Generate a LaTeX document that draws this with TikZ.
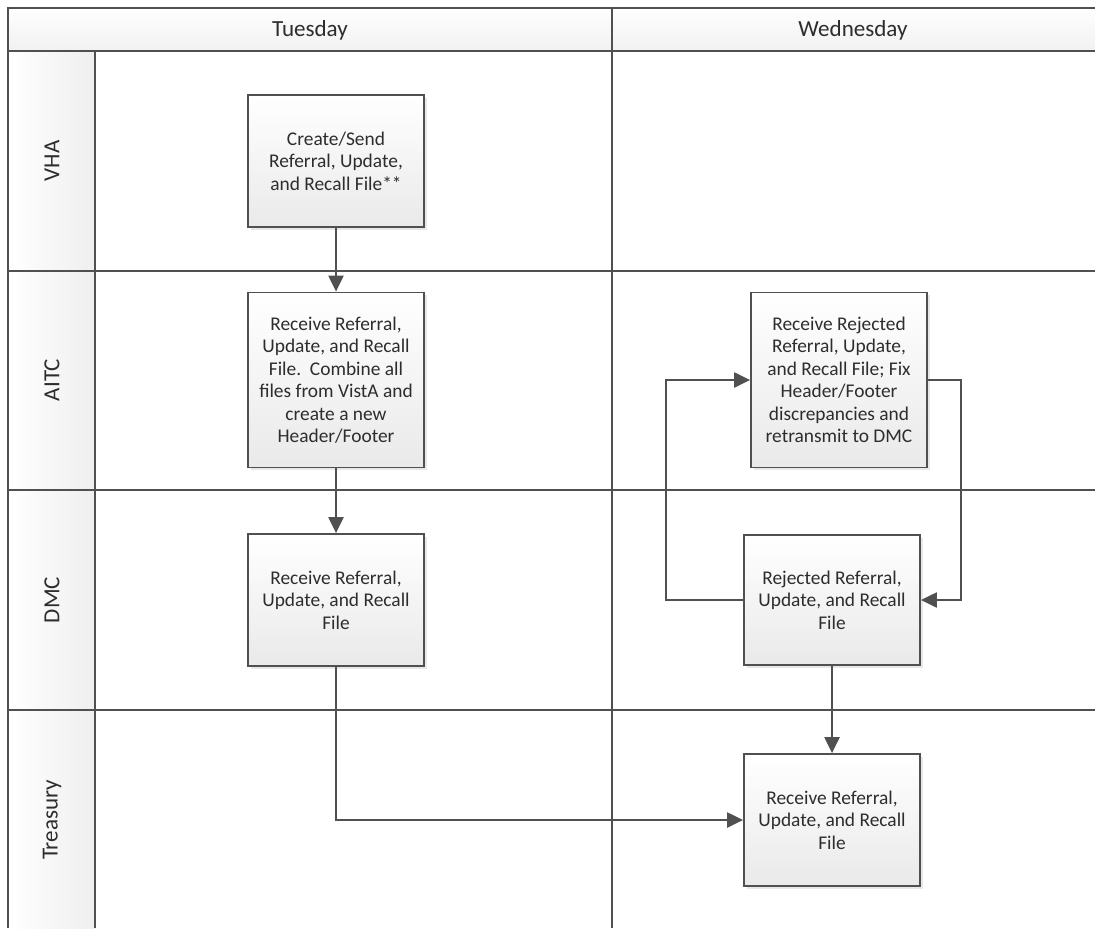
\documentclass[tikz,border=0pt]{standalone}
\usepackage{fontspec}
\setmainfont{Carlito}
\usepackage{tikz}
\usetikzlibrary{positioning, arrows.meta, shadows}
\definecolor{linegray}{RGB}{80,80,80}
\definecolor{textgray}{RGB}{45,45,45}

\begin{document}
\begin{tikzpicture}[x=0.025cm, y=-0.025cm]
    % Stili per le attivita, le frecce e le corsie
    \tikzset{
        taskbox/.style={
            rectangle,
            draw=linegray,
            line width=1.3pt,
            top color=white,
            bottom color=gray!17,
            drop shadow={opacity=0.18, shadow xshift=0.07cm, shadow yshift=-0.07cm},
            minimum width=4.4cm,
            minimum height=3.3cm,
            inner sep=2pt,
            align=center,
            text=textgray,
            font=\fontsize{13.8}{16}\selectfont
        },
        flow/.style={
            draw=linegray,
            line width=1.2pt,
            -{Triangle[length=0.4cm, width=0.38cm]}
        },
        lane/.style={draw=linegray, line width=1.5pt},
        lanelabel/.style={rotate=90, text=textgray, font=\fontsize{16.4}{19}\selectfont},
        daylabel/.style={text=textgray, font=\fontsize{16.4}{19}\selectfont}
    }

    \useasboundingbox (0,0) rectangle (1095,928);

    % --- Intestazione e colonna delle corsie ---
    \shade[top color=white, bottom color=gray!11] (8,8) rectangle (1095,51);
    \shade[left color=white, right color=gray!13] (8,51) rectangle (95,928);

    \draw[lane] (1095,8) -- (8,8) -- (8,928);
    \draw[lane] (8,51) -- (1095,51);
    \draw[lane] (95,51) -- (95,928);
    \draw[lane] (612,8) -- (612,928);
    \foreach \y in {271, 490, 710} {
        \draw[lane] (8,\y) -- (1095,\y);
    }

    \node[daylabel] (tue) at (310,30) {Tuesday};
    \node[daylabel] (wed) at (853,30) {Wednesday};

    \node[lanelabel] (vha)  at (52,161) {VHA};
    \node[lanelabel] (aitc) at (52,380) {AITC};
    \node[lanelabel] (dmc)  at (52,600) {DMC};
    \node[lanelabel] (trs)  at (52,820) {Treasury};

    % --- Attivita di martedi ---
    \node[taskbox] (vha1) at (336,161) {Create/Send\\Referral, Update,\\and Recall File**};
    \node[taskbox, minimum height=4.375cm] (aitc1) at (336,380)
        {Receive Referral,\\Update, and Recall\\File.\ \ Combine all\\files from VistA and\\create a new\\Header/Footer};
    \node[taskbox] (dmc1) at (336,600) {Receive Referral,\\Update, and Recall\\File};

    % --- Attivita di mercoledi ---
    \node[taskbox, minimum height=4.375cm] (aitc2) at (839,380)
        {Receive Rejected\\Referral, Update,\\and Recall File; Fix\\Header/Footer\\discrepancies and\\retransmit to DMC};
    \node[taskbox, minimum height=3.25cm] (dmc2) at (832,600) {Rejected Referral,\\Update, and Recall\\File};
    \node[taskbox] (trs2) at (832,820) {Receive Referral,\\Update, and Recall\\File};

    % --- Frecce ---
    \draw[flow] (vha1) -- (aitc1);
    \draw[flow] (aitc1) -- (dmc1);
    \draw[flow] (dmc1.south) |- (trs2.west);
    \draw[flow] (dmc2) -- (trs2);
    \draw[flow] (dmc2.west) -- ++(-77,0) |- (aitc2.west);
    \draw[flow] (aitc2.east) -- ++(33,0) |- (dmc2.east);
\end{tikzpicture}
\end{document}
